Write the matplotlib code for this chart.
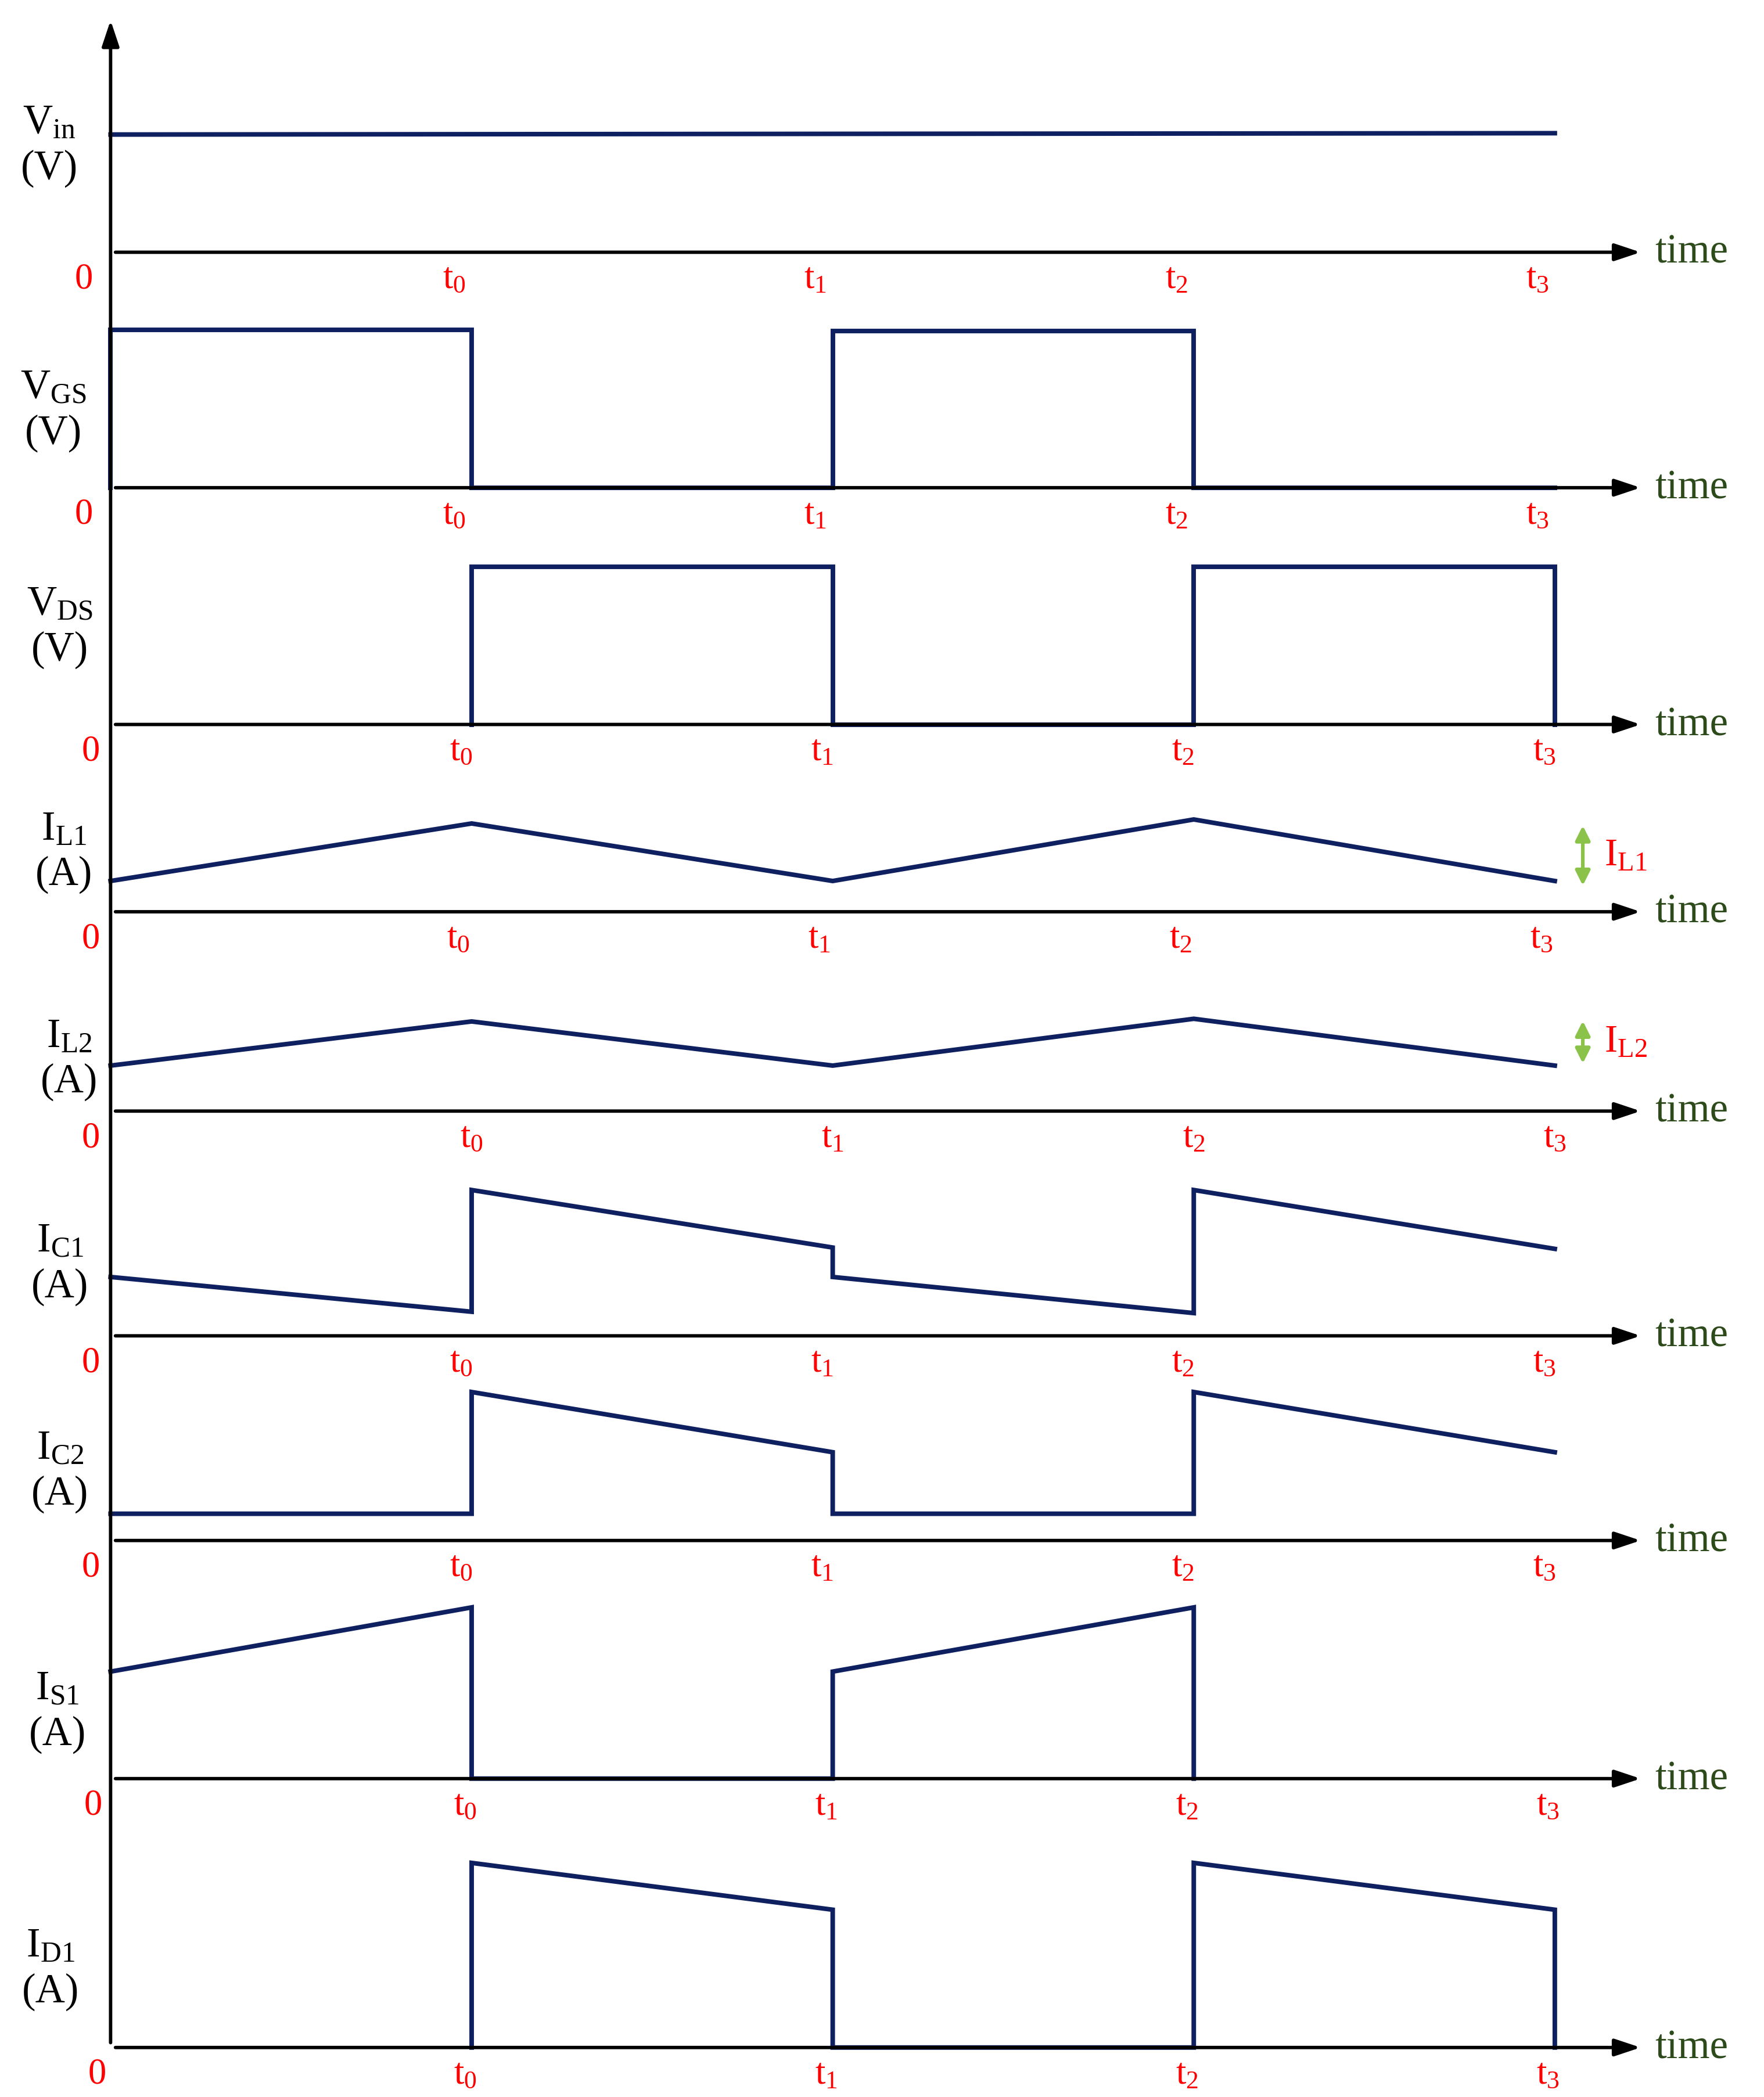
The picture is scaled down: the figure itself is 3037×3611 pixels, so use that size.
import numpy as np
import matplotlib.pyplot as plt

plt.rcParams['font.family'] = ['Liberation Serif', 'DejaVu Serif']
plt.rcParams['mathtext.fontset'] = 'custom'
plt.rcParams['mathtext.rm'] = 'Liberation Serif'
plt.rcParams['mathtext.default'] = 'regular'

W, H = 1324, 1568          # layout grid of the reference (scaled px)
NAVY = '#0f2060'
RED = '#ff0000'
GREEN = '#2d4a1a'

# time instants: 0, t0, t1, t2, t3
t_ticks = ['t$_0$', 't$_1$', 't$_2$', 't$_3$']

# panel labels
names = ['V$_{in}$', 'V$_{GS}$', 'V$_{DS}$', 'I$_{L1}$', 'I$_{L2}$',
         'I$_{C1}$', 'I$_{C2}$', 'I$_{S1}$', 'I$_{D1}$']
units = ['(V)', '(V)', '(V)', '(A)', '(A)', '(A)', '(A)', '(A)', '(A)']

# waveforms: (time, value) per panel, values in arbitrary units above zero
vin_t = [0, 4];                      vin_y = [88, 89]
vgs_t = [0, 0, 1, 1, 2, 2, 3, 3, 4]; vgs_y = [0, 118, 118, 0, 0, 117, 117, 0, 0]
vds_t = [1, 1, 2, 2, 3, 3, 4, 4];    vds_y = [0, 118, 118, 0, 0, 118, 118, 0]
il1_t = [0, 1, 2, 3, 4];             il1_y = [23, 66, 23, 69, 23]
il2_t = [0, 1, 2, 3, 4];             il2_y = [34, 67, 34, 69, 34]
ic1_t = [0, 1, 1, 2, 2, 3, 3, 4];    ic1_y = [44, 18, 109, 66, 44, 17, 109, 65]
ic2_t = [0, 1, 1, 2, 2, 3, 3, 4];    ic2_y = [20, 20, 111, 66, 20, 20, 111, 66]
is1_t = [0, 1, 1, 2, 2, 3, 3];       is1_y = [80, 128, 0, 0, 80, 128, 0]
id1_t = [1, 1, 2, 2, 3, 3, 4, 4];    id1_y = [0, 138, 103, 0, 0, 138, 103, 0]

series = [(vin_t, vin_y), (vgs_t, vgs_y), (vds_t, vds_y), (il1_t, il1_y),
          (il2_t, il2_y), (ic1_t, ic1_y), (ic2_t, ic2_y), (is1_t, is1_y),
          (id1_t, id1_y)]

# layout (reference px)
baselines = [189, 365, 542, 682, 831, 999, 1152, 1330, 1531]
tops = [15] + baselines[:-1]
x0, x_t3, x_end = 83, 1167, 1235
name_xy = [(37, 92), (40, 290), (45, 452), (48, 620), (52, 775),
           (45, 928), (45, 1083), (43, 1263), (38, 1455)]
zero_x = [63, 63, 68, 68, 68, 68, 68, 70, 73]
tick_dx = [-8, -8, -3, -5, 5, -3, -3, 0, 0]

fig = plt.figure(figsize=(3037 / 300, 3612 / 300), dpi=300)
bg = fig.add_axes([0, 0, 1, 1])
bg.set_xlim(0, W)
bg.set_ylim(H, 0)
bg.axis('off')

tscale = (x_t3 - x0) / 4.0
for i, (tt, yy) in enumerate(series):
    b, top = baselines[i], tops[i]
    ax = fig.add_axes([x0 / W, 1 - b / H, (x_end - x0) / W, (b - top) / H])
    ax.set_xlim(0, (x_end - x0) / tscale)
    ax.set_ylim(0, b - top)
    ax.axis('off')
    ax.plot(tt, yy, color=NAVY, lw=1.9, solid_joinstyle='miter', clip_on=False)
    bg.text(x_end + 7, b, 'time', color=GREEN, fontsize=17, ha='left', va='center')
    bg.text(zero_x[i], b + 20, '0', color=RED, fontsize=15, ha='center', va='center')
    for k, lab in enumerate(t_ticks):
        tx = x0 + (k + 1) * tscale + tick_dx[i] - 5
        bg.text(tx, b + 20, lab, color=RED, fontsize=15, ha='center', va='center')
    nx, ny = name_xy[i]
    bg.text(nx, ny, names[i], fontsize=17, ha='center', va='center')
    bg.text(nx, ny + 34, units[i], fontsize=17, ha='center', va='center')

# axes drawn on top of the waveforms
fg = fig.add_axes([0, 0, 1, 1])
fg.set_xlim(0, W)
fg.set_ylim(H, 0)
fg.axis('off')
fg.patch.set_alpha(0)
for b in baselines:
    fg.annotate('', xy=(x_end, b), xytext=(x0, b),
                arrowprops=dict(arrowstyle='-|>,head_length=0.9,head_width=0.3',
                                color='black', lw=1.4))
fg.annotate('', xy=(x0, 12), xytext=(x0, baselines[-1]),
            arrowprops=dict(arrowstyle='-|>,head_length=0.9,head_width=0.3',
                            color='black', lw=1.4))

# ripple markers
for (ya, yb, lab) in [(614, 666, 'I$_{L1}$'), (760, 799, 'I$_{L2}$')]:
    fg.annotate('', xy=(1188, ya), xytext=(1188, yb),
                arrowprops=dict(arrowstyle='<|-|>,head_length=0.5,head_width=0.25',
                                color='#8bc34a', lw=1.5))
    fg.text(1204, (ya + yb) / 2, lab, color=RED, fontsize=16, ha='left', va='center')

fig.savefig('out.png', dpi=300)
